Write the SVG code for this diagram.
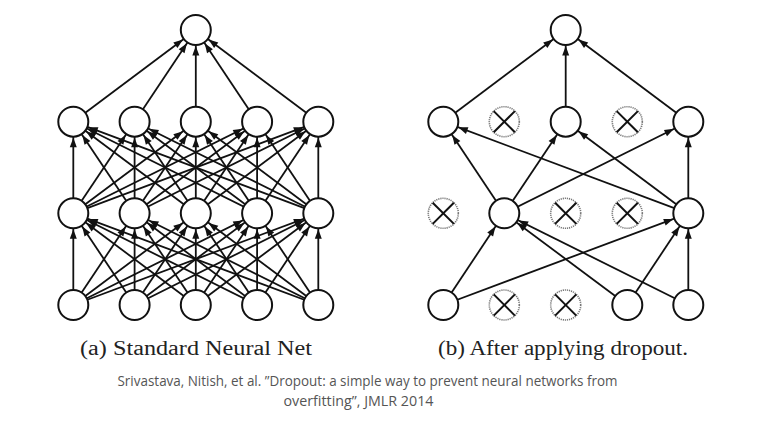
<svg xmlns="http://www.w3.org/2000/svg" width="759" height="443" viewBox="0 0 759 443">
<style>
.e{stroke:#111;stroke-width:1.8;fill:none;marker-end:url(#ah)}
.n{fill:#fff;stroke:#111;stroke-width:2}
.d{fill:#fff;stroke:#777;stroke-width:1.6;stroke-dasharray:1.2 0.9}
.x{stroke:#111;stroke-width:2}
.cap{font-family:"Liberation Serif",serif;font-size:20px;fill:#222}
.cit{font-family:"Open Sans","Liberation Sans",sans-serif;font-size:14px;fill:#555}
</style>
<defs>
<marker id="ah" markerUnits="userSpaceOnUse" markerWidth="10" markerHeight="8" refX="25.5" refY="3.5" orient="auto" overflow="visible">
<path d="M0,0 L9.5,3.5 L0,7 z" fill="#111"/>
</marker>
<circle id="c" r="15" class="n"/>
<g id="xn"><circle r="15" class="d"/><line x1="-10.6" y1="-10.6" x2="10.6" y2="10.6" class="x"/><line x1="-10.6" y1="10.6" x2="10.6" y2="-10.6" class="x"/></g>
</defs>
<rect width="759" height="443" fill="#fff"/>
<g id="connectors">
<!-- left: hidden2 -> output -->
<line class="e" x1="73.3" y1="121.7" x2="195.8" y2="30"/>
<line class="e" x1="134.6" y1="121.7" x2="195.8" y2="30"/>
<line class="e" x1="195.8" y1="121.7" x2="195.8" y2="30"/>
<line class="e" x1="257.1" y1="121.7" x2="195.8" y2="30"/>
<line class="e" x1="318.3" y1="121.7" x2="195.8" y2="30"/>
<!-- left: hidden1 -> hidden2 -->
<line class="e" x1="73.3" y1="213.3" x2="73.3" y2="121.7"/>
<line class="e" x1="73.3" y1="213.3" x2="134.6" y2="121.7"/>
<line class="e" x1="73.3" y1="213.3" x2="195.8" y2="121.7"/>
<line class="e" x1="73.3" y1="213.3" x2="257.1" y2="121.7"/>
<line class="e" x1="73.3" y1="213.3" x2="318.3" y2="121.7"/>
<line class="e" x1="134.6" y1="213.3" x2="73.3" y2="121.7"/>
<line class="e" x1="134.6" y1="213.3" x2="134.6" y2="121.7"/>
<line class="e" x1="134.6" y1="213.3" x2="195.8" y2="121.7"/>
<line class="e" x1="134.6" y1="213.3" x2="257.1" y2="121.7"/>
<line class="e" x1="134.6" y1="213.3" x2="318.3" y2="121.7"/>
<line class="e" x1="195.8" y1="213.3" x2="73.3" y2="121.7"/>
<line class="e" x1="195.8" y1="213.3" x2="134.6" y2="121.7"/>
<line class="e" x1="195.8" y1="213.3" x2="195.8" y2="121.7"/>
<line class="e" x1="195.8" y1="213.3" x2="257.1" y2="121.7"/>
<line class="e" x1="195.8" y1="213.3" x2="318.3" y2="121.7"/>
<line class="e" x1="257.1" y1="213.3" x2="73.3" y2="121.7"/>
<line class="e" x1="257.1" y1="213.3" x2="134.6" y2="121.7"/>
<line class="e" x1="257.1" y1="213.3" x2="195.8" y2="121.7"/>
<line class="e" x1="257.1" y1="213.3" x2="257.1" y2="121.7"/>
<line class="e" x1="257.1" y1="213.3" x2="318.3" y2="121.7"/>
<line class="e" x1="318.3" y1="213.3" x2="73.3" y2="121.7"/>
<line class="e" x1="318.3" y1="213.3" x2="134.6" y2="121.7"/>
<line class="e" x1="318.3" y1="213.3" x2="195.8" y2="121.7"/>
<line class="e" x1="318.3" y1="213.3" x2="257.1" y2="121.7"/>
<line class="e" x1="318.3" y1="213.3" x2="318.3" y2="121.7"/>
<!-- left: input -> hidden1 -->
<line class="e" x1="73.3" y1="305" x2="73.3" y2="213.3"/>
<line class="e" x1="73.3" y1="305" x2="134.6" y2="213.3"/>
<line class="e" x1="73.3" y1="305" x2="195.8" y2="213.3"/>
<line class="e" x1="73.3" y1="305" x2="257.1" y2="213.3"/>
<line class="e" x1="73.3" y1="305" x2="318.3" y2="213.3"/>
<line class="e" x1="134.6" y1="305" x2="73.3" y2="213.3"/>
<line class="e" x1="134.6" y1="305" x2="134.6" y2="213.3"/>
<line class="e" x1="134.6" y1="305" x2="195.8" y2="213.3"/>
<line class="e" x1="134.6" y1="305" x2="257.1" y2="213.3"/>
<line class="e" x1="134.6" y1="305" x2="318.3" y2="213.3"/>
<line class="e" x1="195.8" y1="305" x2="73.3" y2="213.3"/>
<line class="e" x1="195.8" y1="305" x2="134.6" y2="213.3"/>
<line class="e" x1="195.8" y1="305" x2="195.8" y2="213.3"/>
<line class="e" x1="195.8" y1="305" x2="257.1" y2="213.3"/>
<line class="e" x1="195.8" y1="305" x2="318.3" y2="213.3"/>
<line class="e" x1="257.1" y1="305" x2="73.3" y2="213.3"/>
<line class="e" x1="257.1" y1="305" x2="134.6" y2="213.3"/>
<line class="e" x1="257.1" y1="305" x2="195.8" y2="213.3"/>
<line class="e" x1="257.1" y1="305" x2="257.1" y2="213.3"/>
<line class="e" x1="257.1" y1="305" x2="318.3" y2="213.3"/>
<line class="e" x1="318.3" y1="305" x2="73.3" y2="213.3"/>
<line class="e" x1="318.3" y1="305" x2="134.6" y2="213.3"/>
<line class="e" x1="318.3" y1="305" x2="195.8" y2="213.3"/>
<line class="e" x1="318.3" y1="305" x2="257.1" y2="213.3"/>
<line class="e" x1="318.3" y1="305" x2="318.3" y2="213.3"/>
<!-- right: hidden2 -> output -->
<line class="e" x1="443.3" y1="121.7" x2="565.7" y2="30"/>
<line class="e" x1="565.7" y1="121.7" x2="565.7" y2="30"/>
<line class="e" x1="688.3" y1="121.7" x2="565.7" y2="30"/>
<!-- right: hidden1 -> hidden2 -->
<line class="e" x1="504.3" y1="213.3" x2="443.3" y2="121.7"/>
<line class="e" x1="504.3" y1="213.3" x2="565.7" y2="121.7"/>
<line class="e" x1="504.3" y1="213.3" x2="688.3" y2="121.7"/>
<line class="e" x1="688.3" y1="213.3" x2="443.3" y2="121.7"/>
<line class="e" x1="688.3" y1="213.3" x2="565.7" y2="121.7"/>
<line class="e" x1="688.3" y1="213.3" x2="688.3" y2="121.7"/>
<!-- right: input -> hidden1 -->
<line class="e" x1="443.3" y1="305" x2="504.3" y2="213.3"/>
<line class="e" x1="443.3" y1="305" x2="688.3" y2="213.3"/>
<line class="e" x1="627.3" y1="305" x2="504.3" y2="213.3"/>
<line class="e" x1="627.3" y1="305" x2="688.3" y2="213.3"/>
<line class="e" x1="688.3" y1="305" x2="504.3" y2="213.3"/>
<line class="e" x1="688.3" y1="305" x2="688.3" y2="213.3"/>
</g>
<!-- left network nodes -->
<g id="a-out"><use href="#c" x="195.8" y="30"/></g>
<g id="a-h2-0"><use href="#c" x="73.3" y="121.7"/></g>
<g id="a-h2-1"><use href="#c" x="134.6" y="121.7"/></g>
<g id="a-h2-2"><use href="#c" x="195.8" y="121.7"/></g>
<g id="a-h2-3"><use href="#c" x="257.1" y="121.7"/></g>
<g id="a-h2-4"><use href="#c" x="318.3" y="121.7"/></g>
<g id="a-h1-0"><use href="#c" x="73.3" y="213.3"/></g>
<g id="a-h1-1"><use href="#c" x="134.6" y="213.3"/></g>
<g id="a-h1-2"><use href="#c" x="195.8" y="213.3"/></g>
<g id="a-h1-3"><use href="#c" x="257.1" y="213.3"/></g>
<g id="a-h1-4"><use href="#c" x="318.3" y="213.3"/></g>
<g id="a-in-0"><use href="#c" x="73.3" y="305"/></g>
<g id="a-in-1"><use href="#c" x="134.6" y="305"/></g>
<g id="a-in-2"><use href="#c" x="195.8" y="305"/></g>
<g id="a-in-3"><use href="#c" x="257.1" y="305"/></g>
<g id="a-in-4"><use href="#c" x="318.3" y="305"/></g>
<!-- right network nodes -->
<g id="b-out"><use href="#c" x="565.7" y="30"/></g>
<g id="b-h2-0"><use href="#c" x="443.3" y="121.7"/></g>
<g id="b-h2-1"><use href="#xn" x="504.3" y="121.7"/></g>
<g id="b-h2-2"><use href="#c" x="565.7" y="121.7"/></g>
<g id="b-h2-3"><use href="#xn" x="627.3" y="121.7"/></g>
<g id="b-h2-4"><use href="#c" x="688.3" y="121.7"/></g>
<g id="b-h1-0"><use href="#xn" x="443.3" y="213.3"/></g>
<g id="b-h1-1"><use href="#c" x="504.3" y="213.3"/></g>
<g id="b-h1-2"><use href="#xn" x="565.7" y="213.3"/></g>
<g id="b-h1-3"><use href="#xn" x="627.3" y="213.3"/></g>
<g id="b-h1-4"><use href="#c" x="688.3" y="213.3"/></g>
<g id="b-in-0"><use href="#c" x="443.3" y="305"/></g>
<g id="b-in-1"><use href="#xn" x="504.3" y="305"/></g>
<g id="b-in-2"><use href="#xn" x="565.7" y="305"/></g>
<g id="b-in-3"><use href="#c" x="627.3" y="305"/></g>
<g id="b-in-4"><use href="#c" x="688.3" y="305"/></g>
<g id="captions">
<text class="cap" x="80" y="354.5" textLength="232" lengthAdjust="spacingAndGlyphs">(a) Standard Neural Net</text>
<text class="cap" x="438" y="354.5" textLength="250" lengthAdjust="spacingAndGlyphs">(b) After applying dropout.</text>
<text class="cit" x="117.5" y="385.5" textLength="500" lengthAdjust="spacingAndGlyphs">Srivastava, Nitish, et al. ”Dropout: a simple way to prevent neural networks from</text>
<text class="cit" x="283.5" y="405.5" textLength="150" lengthAdjust="spacingAndGlyphs">overfitting”, JMLR 2014</text>
</g>
</svg>
